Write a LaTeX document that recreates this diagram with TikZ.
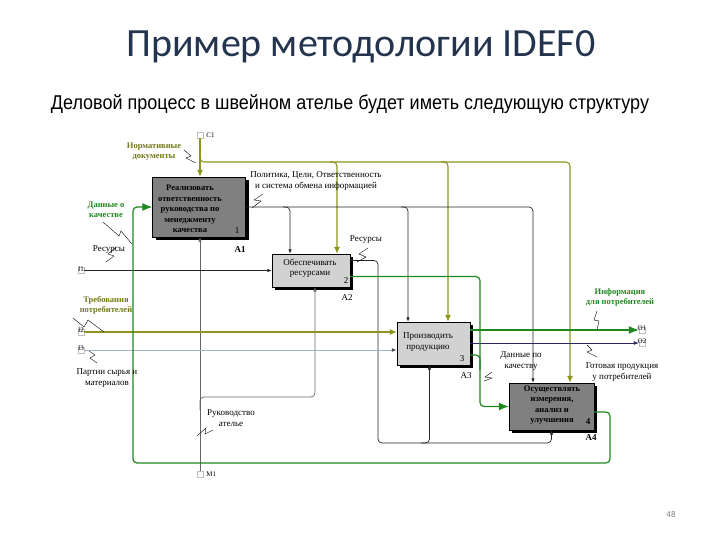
\documentclass[tikz,border=0pt]{standalone}
\usepackage{fontspec}
\setmainfont{Liberation Serif}
\newfontfamily\titlefont{Carlito}
\newfontfamily\subfont[FakeStretch=0.9]{Liberation Sans}
\usetikzlibrary{arrows.meta}
\usetikzlibrary{shadows}
\usetikzlibrary{positioning}

\definecolor{titleblue}{RGB}{36,52,78}
\definecolor{olivearr}{RGB}{140,150,30}
\definecolor{greenarr}{RGB}{30,135,30}
\definecolor{rawblue}{RGB}{165,175,205}
\definecolor{navyline}{RGB}{40,40,100}
\definecolor{boxdark}{RGB}{128,128,128}
\definecolor{boxlight}{RGB}{210,210,210}

\begin{document}
\begin{tikzpicture}[
		x=1pt, y=-1pt,
		thin,
		font=\fontsize{9}{10.5}\selectfont,
		box/.style={draw=black, inner sep=0pt,
			general shadow={fill=black, shadow xshift=3pt, shadow yshift=-3pt}},
		dark/.style={box, fill=boxdark},
		light/.style={box, fill=boxlight},
		boxtext/.style={align=center, inner sep=0pt},
		tab/.style={draw=gray!50, fill=white, minimum width=6pt, minimum height=6pt, inner sep=0pt},
		code/.style={inner sep=0pt, font=\fontsize{7}{7}\selectfont},
		lbl/.style={align=center, inner sep=0pt},
		wire/.style={draw=black!85, line width=0.7pt, rounded corners=4pt, -{Latex[length=4.5pt,width=3.5pt]}},
		mech/.style={draw=black!60, line width=0.7pt, rounded corners=4pt, -{Latex[length=4.5pt,width=3.5pt]}},
		ctrl/.style={draw=olivearr, line width=1.1pt, rounded corners=4pt, -{Latex[length=7pt,width=6pt]}},
		gline/.style={draw=greenarr, line width=1.2pt, rounded corners=4pt},
		garrow/.style={gline, -{Latex[length=10pt,width=8pt]}},
	]
		\useasboundingbox (0,0) rectangle (720,540);

		% headings
		\node (title) at (361,47) {\titlefont\fontsize{40}{44}\selectfont\color{titleblue}Пример методологии IDEF0};
		\node (subtitle) at (350,104) {\subfont\fontsize{20}{22}\selectfont Деловой процесс в швейном ателье будет иметь следующую структуру};
		\node (pageno) at (671,514) {\titlefont\fontsize{9}{9}\selectfont\color{gray}48};

		% activities
		\node[dark, minimum width=93pt, minimum height=60pt] (a1) at (199,207) {};
		\node[light, minimum width=78pt, minimum height=33pt] (a2) at (311,270.5) {};
		\node[light, minimum width=73pt, minimum height=43pt] (a3) at (433.5,343.5) {};
		\node[dark, minimum width=85pt, minimum height=47pt] (a4) at (551.5,406.5) {};

		\node[boxtext, font=\bfseries\fontsize{8.5}{10.5}\selectfont] (t1) at (190,209) {Реализовать\\ответственность\\руководства по\\менеджменту\\качества};
		\node[boxtext] (t2) at (310,268) {Обеспечивать\\ресурсами};
		\node[boxtext] (t3) at (428,342) {Производить\\продукцию};
		\node[boxtext, font=\bfseries\fontsize{8.5}{10.5}\selectfont] (t4) at (552,405) {Осуществлять\\измерения,\\анализ и\\улучшения\hspace{12pt}};

		\node (n1) at (237,231) {1};
		\node (n2) at (346,281) {2};
		\node (n3) at (462,359) {3};
		\node (n4) at (588,422) {\bfseries 4};

		\node[font=\bfseries\fontsize{9}{10}\selectfont] (l1) at (240,250) {A1};
		\node (l2) at (347,298) {A2};
		\node (l3) at (466,376) {A3};
		\node[font=\bfseries\fontsize{9}{10}\selectfont] (l4) at (591,438) {A4};

		% tunnels
		\node[tab] (c1) at (200,135) {};
		\node[tab] (m1) at (200,474) {};
		\node[tab] (i1) at (81,270.5) {};
		\node[tab] (i2) at (81,332) {};
		\node[tab] (i3) at (81,350) {};
		\node[tab] (o1) at (642,330) {};
		\node[tab] (o2) at (642,343) {};
		\node[code, right=3pt of c1] (c1txt) {C1};
		\node[code, right=3pt of m1] (m1txt) {M1};
		\node[code, above=-4pt of i1] (i1txt) {I1};
		\node[code, above=-4pt of i2] (i2txt) {I2};
		\node[code, above=-4pt of i3] (i3txt) {I3};
		\node[code, above=-4pt of o1] (o1txt) {O1};
		\node[code, above=-4pt of o2] (o2txt) {O2};

		% controls
		\draw[ctrl] (c1.south) -- (a1.north -| c1.south);
		\draw[ctrl] (200,150) -- (200,162) -- (570,162) -- (a4.north -| 570,0);
		\draw[ctrl] (330,162) -- (337,162) -- (a2.north -| 337,0);
		\draw[ctrl] (441,162) -- (448,162) -- (a3.north -| 448,0);
		\draw[wire] (a1.east) -- (533,207) -- (a4.north -| 533,0);
		\draw[wire] (283,207) -- (290,207) -- (a2.north -| 290,0);
		\draw[wire] (401,207) -- (408,207) -- (a3.north -| 408,0);

		% mechanisms
		\draw[mech] (m1.north) -- (a1.south -| m1.north);
		\draw[mech] (200,410) -- (200,397) -- (315,397) -- (a2.south -| 315,0);
		\draw[wire] ([yshift=10pt]a2.east) -| (378,443) -| (a4.south);
		\draw[wire] (421,443) -| ([xshift=-4pt]a3.south);

		% inputs and outputs
		\draw[wire] (i1.east) -- (a2.west);
		\draw[ctrl] (i2.east) -- (a3.west |- i2.east);
		\draw[draw=rawblue, line width=1pt, -{Latex[length=5pt,width=4pt,color=black!70]}] (i3.east) -- (a3.west |- i3.east);
		\draw[garrow] (a3.east |- o1.west) -- (o1.west);
		\draw[draw=navyline, line width=0.8pt, -{Latex[length=5pt,width=4pt]}] (a3.east |- o2.west) -- (o2.west);
		\draw[gline] ([yshift=-6pt]a2.east) -- (480,276.5) -- (480,370);
		\draw[garrow] ([yshift=-11.5pt]a3.east) -- (480,355) -- (480,406.5) -- (a4.west);
		\draw[garrow] ([yshift=-5.5pt]a4.east) -- (610,412) -- (610,463) -- (133,463) -- (133,207) -- (a1.west);

		% arrow labels
		\node[lbl, text=olivearr!80!black, font=\bfseries\fontsize{8.5}{10}\selectfont] (normdoc) at (154,152) {Нормативные\\документы};
		\node[lbl] (policy) at (316,181) {Политика, Цели, Ответственность\\и система обмена информацией};
		\node[lbl] (res2) at (366,240) {Ресурсы};
		\node[lbl] (res1) at (109,250) {Ресурсы};
		\node[lbl, text=greenarr, font=\bfseries\fontsize{8.5}{10}\selectfont] (qdata) at (106,210) {Данные о\\качестве};
		\node[lbl, text=olivearr!80!black, font=\bfseries\fontsize{8.5}{10}\selectfont] (req) at (106,305) {Требования\\потребителей};
		\node[lbl] (raw) at (107,378) {Партии сырья и\\материалов};
		\node[lbl] (mgmt) at (231,418) {Руководство\\ателье};
		\node[lbl, text=greenarr, font=\bfseries\fontsize{8.5}{10}\selectfont] (info) at (620,297) {Информация\\для потребителей};
		\node[lbl] (goods) at (622,372) {Готовая продукция\\у потребителей};
		\node[lbl] (quality) at (521,361) {Данные по\\качеству};

		% squiggles
		\draw (184,150) -- (191,156) -- (186,158) -- (196,163);
		\draw (252,208) -- (261,201) -- (254,200) -- (263,194);
		\draw (357,262) -- (366,257) -- (359,254) -- (368,248);
		\draw (106,262) -- (114,256) -- (108,254) -- (116,247);
		\draw (103,222) -- (119,236) -- (121,231) -- (132,244);
		\draw (73,318) -- (84,327) -- (88,320) -- (104,332);
		\draw (89,351) -- (95,355) -- (90,358) -- (97,363);
		\draw (197,436) -- (206,428) -- (205,434) -- (213,430);
		\draw (597,330) -- (599,321) -- (594,320) -- (597,311);
		\draw (597,357) -- (587,352) -- (592,350) -- (587,345);
		\draw (484,381) -- (492,378) -- (485,377) -- (492,372);
	\end{tikzpicture}
\end{document}
